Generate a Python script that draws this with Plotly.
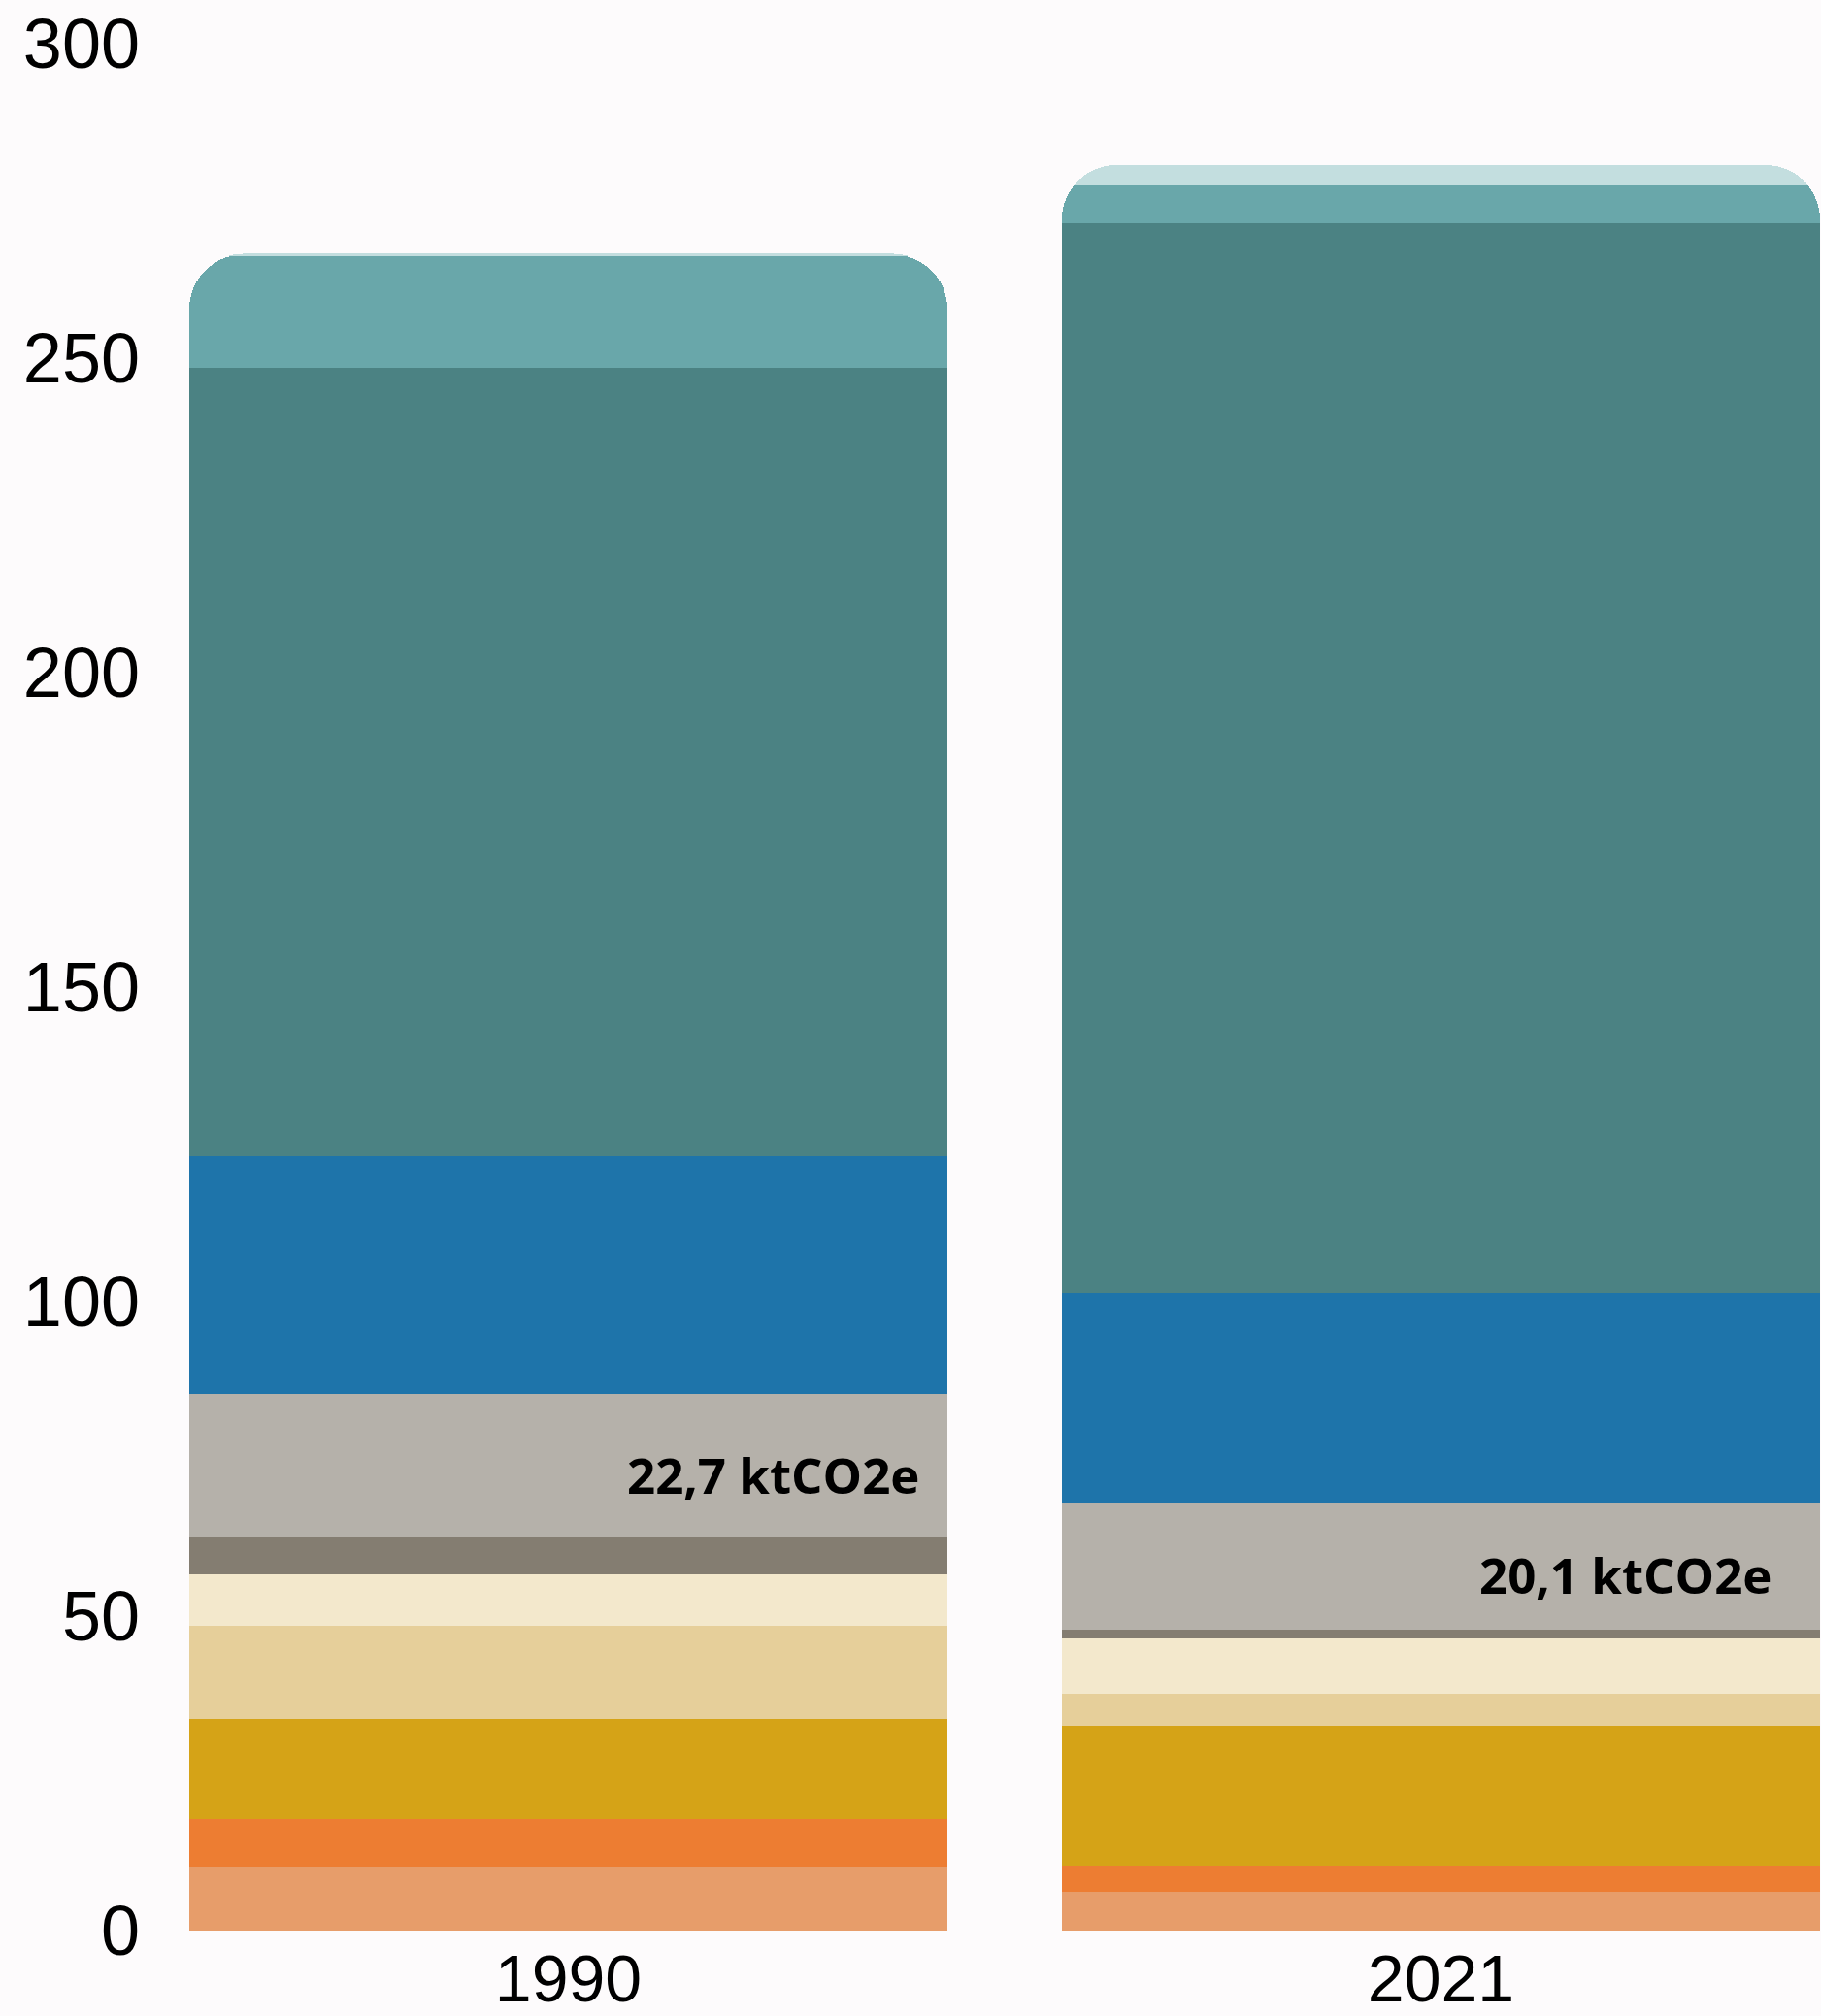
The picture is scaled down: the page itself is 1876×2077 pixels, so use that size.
import plotly.graph_objects as go

years = ["1990", "2021"]

# Stacked segments, bottom to top (ktCO2e)
seg_salmon = [10.2, 6.1]
seg_orange = [7.6, 4.3]
seg_gold = [15.9, 22.1]
seg_tan = [14.8, 5.1]
seg_cream = [8.2, 8.8]
seg_darkgrey = [5.9, 1.5]
seg_lightgrey = [22.7, 20.1]
seg_blue = [37.9, 33.4]
seg_darkteal = [125.2, 170.1]
seg_teal = [17.9, 5.9]
seg_lightteal = [0.3, 3.3]

segments = [seg_salmon, seg_orange, seg_gold, seg_tan, seg_cream, seg_darkgrey,
            seg_lightgrey, seg_blue, seg_darkteal, seg_teal, seg_lightteal]
colors = ["#e79d6a", "#ed7d32", "#d5a317", "#e6cf9a", "#f3e8cc", "#847d71",
          "#b5b1aa", "#1e74aa", "#4b8283", "#69a7aa", "#c3dedf"]

label_texts = ["22,7 ktCO2e", "20,1 ktCO2e"]
label_segment_index = 6
label_xshift = [-27, -48]

y_ticks = [0, 50, 100, 150, 200, 250, 300]

bar_width = 0.869

fig = go.Figure()
for vals, col in zip(segments, colors):
    fig.add_trace(go.Bar(x=years, y=vals, marker=dict(color=col, line=dict(width=0)),
                         width=bar_width, showlegend=False, hoverinfo="skip"))

# labels on the light grey segment
for i, yr in enumerate(years):
    base = sum(s[i] for s in segments[:label_segment_index])
    mid = base + segments[label_segment_index][i] / 2
    fig.add_annotation(x=i + bar_width / 2, y=mid, xref="x", yref="y",
                       text="<b>%s</b>" % label_texts[i], showarrow=False,
                       xanchor="right", yanchor="middle", xshift=label_xshift[i], yshift=-9,
                       font=dict(family="Open Sans", size=51, color="#000000"))

fig.update_layout(
    width=1876, height=2077,
    barmode="stack",
    barcornerradius=56,
    paper_bgcolor="#fdfbfc",
    plot_bgcolor="#fdfbfc",
    margin=dict(l=150, r=0, t=45, b=88, autoexpand=False),
    font=dict(family="Liberation Sans", size=72, color="#000000"),
    xaxis=dict(type="category", range=[-0.4844, 1.4355], showgrid=False, zeroline=False,
               showline=False, ticks="", tickfont=dict(size=68), automargin=False,
               ticklabeloverflow="allow", ticklabelstandoff=4),
    yaxis=dict(range=[0, 300], tickvals=y_ticks, ticktext=[str(t) for t in y_ticks],
               showgrid=False, zeroline=False, showline=False, ticks="",
               tickfont=dict(size=72), automargin=False, ticklabeloverflow="allow",
               ticklabelstandoff=5),
)

fig.write_html("out.html", config={"displayModeBar": False},
               post_script="document.body.style.margin='0';document.body.style.overflow='hidden';document.body.style.background='#fdfbfc';")
